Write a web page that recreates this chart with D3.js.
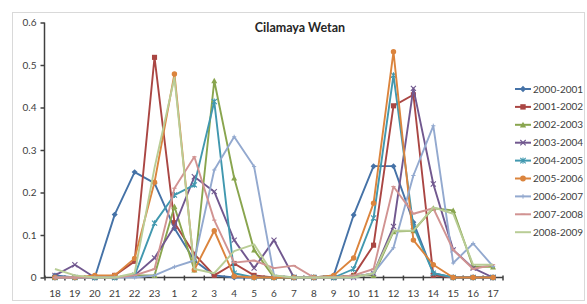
<!DOCTYPE html>
<html><head><meta charset="utf-8">
<script src="https://cdn.jsdelivr.net/npm/d3@7"></script>
<style>body{margin:0;background:#fff}svg{display:block}</style>
</head><body>
<script>
const categories = ["18","19","20","21","22","23","1","2","3","4","5","6","7","8","9","10","11","12","13","14","15","16","17"];
const seriesNames = ["2000-2001","2001-2002","2002-2003","2003-2004","2004-2005","2005-2006","2006-2007","2007-2008","2008-2009"];
const s2000 = [0.005,0,0,0.148,0.248,0.222,0.116,0.04,0.005,0,0,0,0,0,0.005,0.147,0.262,0.262,0.13,0.01,0,0,0];
const s2001 = [0,0,0,0.005,0.038,0.518,0.129,0.055,0.005,0.033,0.005,0,0,0,0,0.005,0.076,0.404,0.43,0.005,0,0,0];
const s2002 = [0,0,0,0,0.005,0.005,0.167,0.018,0.463,0.234,0.065,0,0,0,0,0.005,0.005,0.108,0.11,0.163,0.158,0.025,0.025];
const s2003 = [0.005,0.03,0,0,0.005,0.046,0.12,0.237,0.202,0.088,0.022,0.088,0,0,0,0,0.01,0.12,0.445,0.22,0.065,0.022,0];
const s2004 = [0,0,0,0,0.005,0.128,0.194,0.218,0.414,0.01,0,0,0,0,0,0.02,0.14,0.476,0.12,0.01,0,0,0];
const s2005 = [0,0,0.005,0.005,0.045,0.224,0.479,0.018,0.11,0.003,0,0,0,0,0.005,0.046,0.175,0.531,0.088,0.03,0,0,0];
const s2006 = [0,0,0,0,0,0.005,0.025,0.04,0.253,0.331,0.261,0.005,0,0,0,0,0.01,0.07,0.24,0.357,0.034,0.08,0.026];
const s2007 = [0,0,0,0,0.005,0.02,0.21,0.284,0.135,0.035,0.04,0.022,0.028,0,0,0.005,0.02,0.214,0.15,0.163,0.065,0.02,0.03];
const s2008 = [0.02,0.005,0,0,0.01,0.258,0.47,0.02,0.01,0.062,0.078,0.005,0,0,0,0,0.01,0.11,0.11,0.165,0.15,0.03,0.03];
const yTicks = [0,0.1,0.2,0.3,0.4,0.5,0.6];
const colors = ["#4572A7","#AA4643","#89A54E","#71588F","#4198AF","#DB843D","#93A9CF","#D19392","#B9CD96"];
const markers = ["diamond","square","triangle","x","star","circle","plus","dash","none"];

const seriesValues = [s2000,s2001,s2002,s2003,s2004,s2005,s2006,s2007,s2008];
const series = seriesNames.map((n,i)=>({name:n, values:seriesValues[i], color:colors[i], marker:markers[i]}));

const W=587,H=304;
const svg = d3.select("body").append("svg").attr("width",W).attr("height",H);
svg.append("rect").attr("x",12.5).attr("y",12.5).attr("width",572).attr("height",288)
  .attr("fill","#fff").attr("stroke","#d9d9d9").attr("stroke-width",1);

const x = d3.scaleBand().domain(categories).range([45,503]).padding(0);
const y = d3.scaleLinear().domain([0,0.6]).range([277.5,22.5]);
const cx = c => x(c)+x.bandwidth()/2;

svg.append("text").attr("x",300).attr("y",32).attr("text-anchor","middle")
  .attr("font-family","Lato, 'Open Sans', sans-serif").attr("font-weight","bold").attr("font-size",12.5)
  .attr("fill","#262626").text("Cilamaya Wetan");

// y axis
const yAx = svg.append("g").attr("transform","translate(44.5,0)")
  .call(d3.axisLeft(y).tickValues(yTicks).tickSize(4).tickPadding(4).tickFormat(d=>d3.format("~g")(d)));
yAx.selectAll("path,line").attr("stroke","#404040").attr("stroke-width",1.5);
yAx.select(".domain").attr("d","M0,"+y(0.6)+"V"+y(0));
yAx.selectAll("text").attr("font-family","Lato, 'Open Sans', sans-serif").attr("font-size",10).attr("fill","#404040");

// x axis
const xAx = svg.append("g").attr("transform","translate(0,"+y(0)+")")
  .call(d3.axisBottom(x).tickSize(0).tickPadding(12));
xAx.select(".domain").attr("stroke","#404040").attr("stroke-width",1.5).attr("d","M44,0H503");
xAx.selectAll("text").attr("font-family","Lato, 'Open Sans', sans-serif").attr("font-size",10).attr("fill","#404040");
xAx.selectAll(".tk").data(categories.concat(["end"])).enter().append("line")
  .attr("x1",(d,i)=> i<categories.length ? x(d) : x.range()[1]).attr("x2",(d,i)=> i<categories.length ? x(d) : x.range()[1])
  .attr("y1",-2).attr("y2",3).attr("stroke","#404040").attr("stroke-width",1.5);

function drawMarker(g, type, color, px, py, s){
  s = s||1;
  if(type==="diamond") g.append("path").attr("d",`M${px},${py-3.5*s}L${px+3.5*s},${py}L${px},${py+3.5*s}L${px-3.5*s},${py}Z`).attr("fill",color);
  else if(type==="square") g.append("rect").attr("x",px-3*s).attr("y",py-3*s).attr("width",6*s).attr("height",6*s).attr("fill",color);
  else if(type==="triangle") g.append("path").attr("d",`M${px},${py-3.5*s}L${px+3.5*s},${py+3*s}L${px-3.5*s},${py+3*s}Z`).attr("fill",color);
  else if(type==="x") g.append("path").attr("d",`M${px-3*s},${py-3*s}L${px+3*s},${py+3*s}M${px-3*s},${py+3*s}L${px+3*s},${py-3*s}`).attr("stroke",color).attr("stroke-width",1.1);
  else if(type==="star") g.append("path").attr("d",`M${px-3*s},${py-3*s}L${px+3*s},${py+3*s}M${px-3*s},${py+3*s}L${px+3*s},${py-3*s}M${px},${py-3.5*s}V${py+3.5*s}`).attr("stroke",color).attr("stroke-width",1.1);
  else if(type==="circle") g.append("circle").attr("cx",px).attr("cy",py).attr("r",3.2*s).attr("fill",color);
  else if(type==="plus") g.append("path").attr("d",`M${px-2.5*s},${py}H${px+2.5*s}M${px},${py-2.5*s}V${py+2.5*s}`).attr("stroke",color).attr("stroke-width",1);
  else if(type==="dash") g.append("path").attr("d",`M${px-2.5*s},${py}H${px+2.5*s}`).attr("stroke",color).attr("stroke-width",1.2);
}

const line = d3.line().x((d,i)=>cx(categories[i])).y(d=>y(d));
const plot = svg.append("g");
series.forEach(s=>{
  const g = plot.append("g");
  g.append("path").attr("d",line(s.values)).attr("fill","none").attr("stroke",s.color).attr("stroke-width",1.9).attr("stroke-linejoin","round");
  s.values.forEach((v,i)=>drawMarker(g, s.marker, s.color, cx(categories[i]), y(v), 0.85));
});

// legend
const lg = svg.append("g");
series.forEach((s,i)=>{
  const ly = 89 + i*17.9;
  const g = lg.append("g");
  g.append("line").attr("x1",515).attr("x2",531).attr("y1",ly).attr("y2",ly).attr("stroke",s.color).attr("stroke-width",2);
  drawMarker(g, s.marker, s.color, 523, ly, 0.9);
  g.append("text").attr("x",533).attr("y",ly+3.5).attr("font-family","Lato, 'Open Sans', sans-serif").attr("font-size",10)
    .attr("fill","#404040").text(s.name);
});
</script>
</body></html>
